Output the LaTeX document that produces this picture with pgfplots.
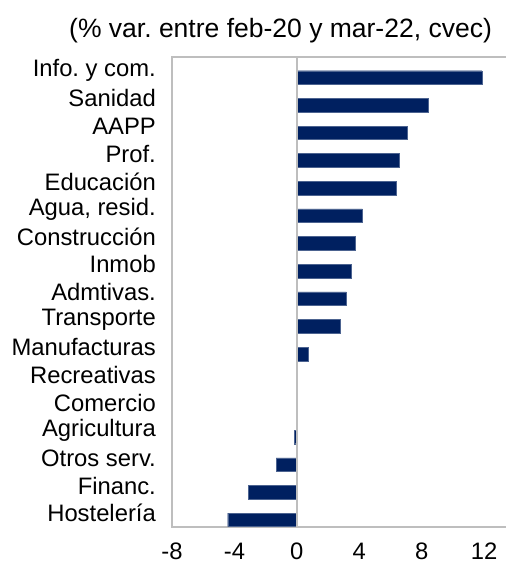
\documentclass[border=0pt]{standalone}
\usepackage{pgfplots}
\pgfplotsset{compat=1.18}
\usepackage{fontspec}
\setmainfont{Liberation Sans}
\frenchspacing
\definecolor{barblue}{RGB}{0,32,96}
\definecolor{axgray}{RGB}{190,190,190}
\begin{document}
\begin{tikzpicture}
\useasboundingbox (-172bp,-37bp) rectangle (334bp,527bp);
\begin{axis}[
  scale only axis,
  width=334bp, height=470bp,
  xbar, bar width=13.6bp, bar shift=0bp,
  xmin=-8, xmax=13.4,
  ymin=-0.5, ymax=16.5,
  y dir=reverse,
  axis line style={draw=none},
  clip=false,
  xtick={-8,-4,0,4,8,12},
  xticklabels={-8,-4,0,4,8,12},
  ytick={0,...,16},
  yticklabels={Info. y com., Sanidad, AAPP, Prof., Educación, {Agua, resid.}, Construcción, Inmob, Admtivas., Transporte, Manufacturas, Recreativas, Comercio, Agricultura, Otros serv., Financ., Hostelería},
  major tick length=0pt,
  tick style={draw=none},
  yticklabel style={font=\fontsize{23.8bp}{26bp}\selectfont, inner sep=0pt, anchor=east, xshift=-16bp},
  xticklabel style={font=\fontsize{23.8bp}{26bp}\selectfont, inner sep=0pt, anchor=north, yshift=-16bp},
]
\draw[axgray, line width=1.5bp] (rel axis cs:1,1) -- (rel axis cs:0,1) -- (rel axis cs:0,0) -- (rel axis cs:1,0);
\addplot[fill=barblue, draw=barblue!70!white, line width=0.4bp, bar shift=-6.7bp] coordinates {
(11.86,0) (8.40,1) (7.09,2) (6.58,3) (6.38,4) (4.19,5) (3.74,6) (3.48,7) (3.18,8) (2.80,9) (0.74,10) (0.0,11) (-0.05,12) (-0.15,13) (-1.33,14) (-3.10,15) (-4.43,16)
};
\draw[axgray, line width=1.5bp] (axis cs:0,-0.5) -- (axis cs:0,16.5);
\node[anchor=base, inner sep=0pt, yshift=20bp, font=\fontsize{26.5bp}{28bp}\selectfont] at (rel axis cs:0.325,1) {(\% var. entre feb-20 y mar-22, cvec)};
\end{axis}
\end{tikzpicture}
\end{document}
